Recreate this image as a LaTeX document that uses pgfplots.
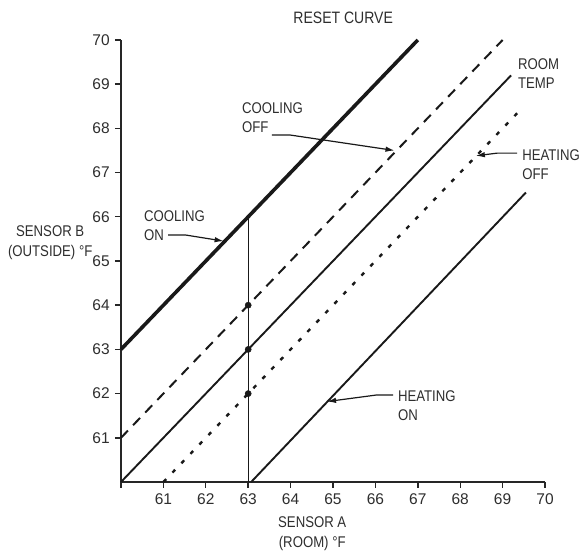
\documentclass[border=0pt]{standalone}
\usepackage{pgfplots}
\pgfplotsset{compat=1.18}
\usepackage{fontspec}
\setmainfont{Liberation Sans}[FakeStretch=0.85]
\newfontfamily\tickfont{Liberation Sans}
\usetikzlibrary{arrows.meta}
\definecolor{txt}{HTML}{2E2E2E}
\begin{document}
\fontsize{15.5bp}{19bp}\selectfont
\begin{tikzpicture}
\path[use as bounding box] (-121bp,-70bp) rectangle (459bp,482bp);
\begin{axis}[
  anchor=origin,
  at={(0,0)},
  x=42.4bp, y=44.2bp,
  xmin=60, xmax=70, ymin=60, ymax=70,
  axis x line=bottom, axis y line=left,
  axis line style={-, line width=1.8bp, black!85},
  xtick={60,...,70}, xticklabels={,61,62,63,64,65,66,67,68,69,70},
  ytick={61,...,70},
  tick align=outside,
  major tick length=6bp,
  tick style={line width=1.4bp, black!85},
  every tick label/.append style={font=\tickfont\fontsize{15.5bp}{19bp}\selectfont, text=txt},
  /pgf/number format/assume math mode=true,
  clip=false,
]
% cooling on (thick)
\addplot[line width=3.6bp, black!90] coordinates {(60,63) (67,70)};
% cooling off (dashed)
\addplot[line width=2bp, black!90, dash pattern=on 10bp off 7.5bp] coordinates {(60,61) (69,70)};
% room temp
\addplot[line width=1.9bp, black!90] coordinates {(60,60) (69.2,69.2)};
% heating off (dotted)
\addplot[line width=2.4bp, black!90, dash pattern=on 4bp off 9bp] coordinates {(61,60) (69.35,68.35)};
% heating on
\addplot[line width=1.9bp, black!90] coordinates {(63.07,60) (69.55,66.55)};
% vertical line
\addplot[line width=1.3bp, black!90] coordinates {(63,60) (63,66)};
% dots
\addplot[only marks, mark=*, mark size=3.1bp, black!90] coordinates {(63,64) (63,63) (63,62)};

\node[text=txt, font=\fontsize{16.5bp}{19bp}\selectfont] at (axis cs:65.24,70.5) {RESET CURVE};
\node[align=center, text=txt, inner sep=0pt] at (axis cs:58.33,65.41) {SENSOR B\\[1bp](OUTSIDE) °F};
\node[align=center, text=txt, inner sep=0pt] at (axis cs:64.51,58.83) {SENSOR A\\[1bp](ROOM) °F};

\node[align=left, anchor=west, text=txt, inner sep=0pt] at (axis cs:62.85,68.24) {COOLING\\OFF};
\node[align=left, anchor=west, text=txt, inner sep=0pt] at (axis cs:60.54,65.79) {COOLING\\ON};
\node[align=left, anchor=west, text=txt, inner sep=0pt] at (axis cs:69.36,69.24) {ROOM\\TEMP};
\node[align=left, anchor=west, text=txt, inner sep=0pt] at (axis cs:69.46,67.18) {HEATING\\OFF};
\node[align=left, anchor=west, text=txt, inner sep=0pt] at (axis cs:66.53,61.72) {HEATING\\ON};

\draw[line width=1.2bp, black!90, -{Latex[length=9bp,width=5.5bp]}] (axis cs:63.56,67.85) -- (axis cs:63.99,67.85) -- (axis cs:66.45,67.5);
\draw[line width=1.2bp, black!90, -{Latex[length=9bp,width=5.5bp]}] (axis cs:61.11,65.59) -- (axis cs:61.51,65.59) -- (axis cs:62.42,65.45);
\draw[line width=1.2bp, black!90, -{Latex[length=9bp,width=5.5bp]}] (axis cs:69.34,67.44) -- (axis cs:68.87,67.44) -- (axis cs:68.37,67.38);
\draw[line width=1.2bp, black!90, -{Latex[length=9bp,width=5.5bp]}] (axis cs:66.42,61.97) -- (axis cs:66.04,61.97) -- (axis cs:64.86,61.82);
\end{axis}
\end{tikzpicture}
\end{document}
